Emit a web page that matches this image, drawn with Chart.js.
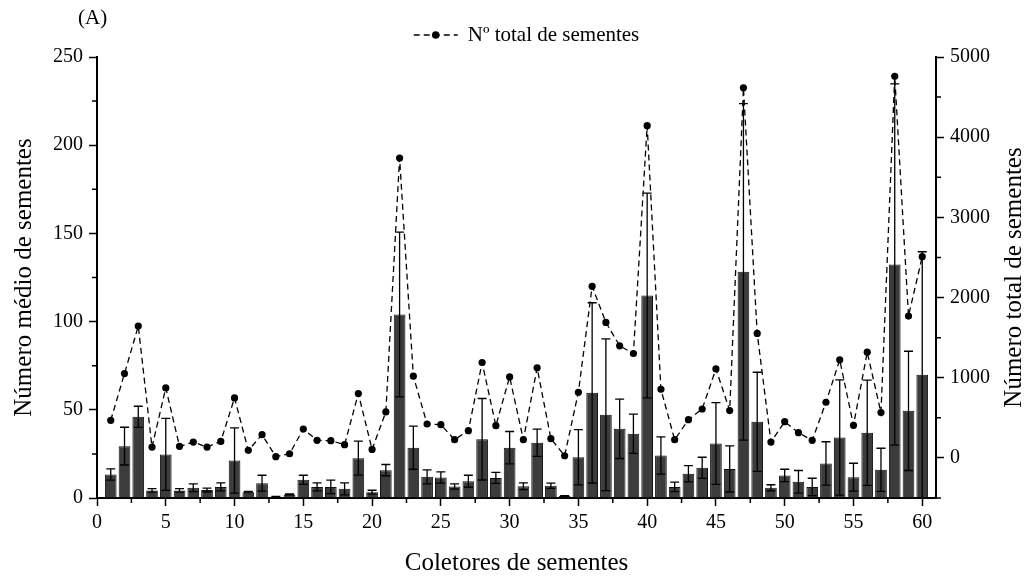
<!DOCTYPE html>
<html>
<head>
<meta charset="utf-8">
<script src="https://cdn.jsdelivr.net/npm/chart.js@4.4.1/dist/chart.umd.min.js"></script>
<style>
  body { margin: 0; background: #fff; }
  #wrap { width: 1028px; height: 577px; }
</style>
</head>
<body>
<div id="wrap"><canvas id="seedChart"></canvas></div>
<script>
// ============================================
// DATA
// ============================================
const collectors = Array.from({ length: 60 }, (_, i) => i + 1);

// mean number of seeds per collector (left axis)
const meanSeeds = [13.3, 29.4, 46.0, 4.3, 24.7, 4.3, 5.8, 4.5, 6.3, 21.3,
    3.3, 8.4, 0.7, 2.0, 10.3, 6.3, 6.3, 5.2, 22.6, 3.3,
    15.8, 104.0, 28.5, 12.0, 11.6, 6.5, 9.5, 33.3, 11.4, 28.5,
    6.7, 31.3, 6.9, 1.2, 23.1, 59.6, 47.2, 39.2, 36.4, 114.8,
    24.1, 6.3, 13.7, 17.1, 30.9, 16.5, 128.2, 43.2, 5.8, 12.8,
    9.2, 6.3, 19.6, 34.3, 11.8, 37.0, 16.0, 132.4, 49.4, 69.8];

// standard deviation (error bars)
const sdSeeds = [3.2, 10.7, 6.0, 1.0, 20.4, 1.0, 2.2, 1.1, 2.3, 18.5,
    0.4, 4.5, 0.2, 0.3, 2.6, 2.3, 3.8, 3.4, 9.6, 1.1,
    3.2, 46.7, 12.2, 4.0, 3.2, 1.5, 3.4, 23.1, 3.1, 9.2,
    1.9, 7.7, 1.5, 0.2, 15.7, 51.1, 43.0, 16.8, 11.1, 58.0,
    10.6, 2.7, 4.6, 6.0, 23.2, 13.1, 95.4, 28.1, 1.7, 3.5,
    6.4, 4.9, 12.3, 32.7, 7.9, 29.8, 12.2, 102.4, 33.8, 69.8];

// total number of seeds (right axis)
const totalSeeds = [469, 1052, 1644, 135, 873, 144, 198, 135, 206, 748,
    94, 290, 15, 52, 360, 219, 215, 165, 802, 106,
    573, 3740, 1019, 423, 415, 227, 340, 1190, 402, 1010,
    227, 1123, 240, 27, 819, 2140, 1690, 1398, 1302, 4144,
    856, 227, 477, 610, 1110, 590, 4615, 1552, 198, 452,
    315, 219, 694, 1223, 406, 1319, 565, 4760, 1769, 2510];

const xTicks = [0, 5, 10, 15, 20, 25, 30, 35, 40, 45, 50, 55, 60];
const yTicks = [0, 50, 100, 150, 200, 250];
const y2Ticks = [0, 1000, 2000, 3000, 4000, 5000];
const xMinor = [2.5, 7.5, 12.5, 17.5, 22.5, 27.5, 32.5, 37.5, 42.5, 47.5, 52.5, 57.5];
const yMinor = [25, 75, 125, 175, 225];
const y2Minor = [-500, 500, 1500, 2500, 3500, 4500];

const FONT = "'Liberation Serif', 'Times New Roman', serif";

// ============================================
// EXTRA DRAWING (error bars, minor ticks, legend, labels)
// ============================================
const extrasPlugin = {
    id: 'extras',
    afterDatasetsDraw(chart) {
        const ctx = chart.ctx;
        const yScale = chart.scales.y;
        const bars = chart.getDatasetMeta(1).data;
        ctx.save();
        ctx.strokeStyle = '#000';
        ctx.lineWidth = 1.3;
        bars.forEach((bar, i) => {
            const top = yScale.getPixelForValue(meanSeeds[i] + sdSeeds[i]);
            const bottom = yScale.getPixelForValue(Math.max(0, meanSeeds[i] - sdSeeds[i]));
            ctx.beginPath();
            ctx.moveTo(bar.x, top);
            ctx.lineTo(bar.x, bottom);
            ctx.moveTo(bar.x - 4.5, top);
            ctx.lineTo(bar.x + 4.5, top);
            ctx.moveTo(bar.x - 4.5, bottom);
            ctx.lineTo(bar.x + 4.5, bottom);
            ctx.stroke();
        });
        ctx.restore();
    },
    afterDraw(chart) {
        const ctx = chart.ctx;
        const { x, y, y2 } = chart.scales;
        const area = chart.chartArea;
        ctx.save();
        ctx.strokeStyle = '#000';
        ctx.lineWidth = 1.5;

        // minor ticks
        ctx.beginPath();
        xMinor.forEach(v => {
            const px = x.getPixelForValue(v);
            ctx.moveTo(px, area.bottom);
            ctx.lineTo(px, area.bottom + 5);
        });
        yMinor.forEach(v => {
            const py = y.getPixelForValue(v);
            ctx.moveTo(area.left, py);
            ctx.lineTo(area.left - 5, py);
        });
        y2Minor.forEach(v => {
            const py = y2.getPixelForValue(v);
            ctx.moveTo(area.right, py);
            ctx.lineTo(area.right + 5, py);
        });
        ctx.stroke();

        // legend
        ctx.font = '21px ' + FONT;
        const label = 'Nº total de sementes';
        const textW = ctx.measureText(label).width;
        const total = 54 + textW;
        const lx = (area.left + area.right) / 2 + 10 - total / 2;
        const ly = 35;
        ctx.lineWidth = 1.3;
        ctx.setLineDash([6, 4]);
        ctx.beginPath();
        ctx.moveTo(lx, ly);
        ctx.lineTo(lx + 44, ly);
        ctx.stroke();
        ctx.setLineDash([]);
        ctx.fillStyle = '#000';
        ctx.beginPath();
        ctx.arc(lx + 22, ly, 3.8, 0, Math.PI * 2);
        ctx.fill();
        ctx.textBaseline = 'middle';
        ctx.textAlign = 'left';
        ctx.fillText(label, lx + 54, ly);

        // panel letter
        ctx.fillText('(A)', 78, 18);

        // right axis title, reading bottom to top
        ctx.font = '25px ' + FONT;
        ctx.translate(y2.right - 14, (area.top + area.bottom) / 2);
        ctx.rotate(-Math.PI / 2);
        ctx.textAlign = 'center';
        ctx.fillText('Número total de sementes', 0, 0);
        ctx.restore();
    }
};

// ============================================
// CHART
// ============================================
const axisBase = {
    border: { display: true, color: '#000', width: 2 },
    grid: { display: true, drawOnChartArea: false, drawTicks: true, tickLength: 8, tickWidth: 1.5, tickColor: '#000' }
};
const plainNumber = v => String(v);

const ctx = document.getElementById('seedChart').getContext('2d');
new Chart(ctx, {
    type: 'bar',
    data: {
        datasets: [{
            type: 'line',
            label: 'Nº total de sementes',
            data: collectors.map((c, i) => ({ x: c, y: totalSeeds[i] })),
            yAxisID: 'y2',
            borderColor: '#000',
            borderWidth: 1.3,
            borderDash: [6, 4],
            pointRadius: 3.6,
            pointBackgroundColor: '#000',
            pointBorderWidth: 0,
            tension: 0,
            fill: false,
            order: 0
        }, {
            type: 'bar',
            label: 'Número médio de sementes',
            data: collectors.map((c, i) => ({ x: c, y: meanSeeds[i] })),
            yAxisID: 'y',
            backgroundColor: '#3c3c3c',
            borderColor: '#111',
            borderWidth: 1,
            barPercentage: 0.85,
            categoryPercentage: 1,
            order: 1
        }]
    },
    options: {
        responsive: true,
        maintainAspectRatio: false,
        animation: false,
        layout: { padding: { top: 57, left: 0, right: 0, bottom: 0 } },
        plugins: {
            legend: { display: false },
            tooltip: { enabled: false }
        },
        scales: {
            x: {
                ...axisBase,
                type: 'linear',
                position: 'bottom',
                min: 0,
                max: 61,
                offset: false,
                grid: { ...axisBase.grid, offset: false },
                afterBuildTicks: s => { s.ticks = xTicks.map(v => ({ value: v })); },
                afterFit: s => { s.height = 79; },
                ticks: { color: '#000', padding: 5, maxRotation: 0, callback: plainNumber, font: { family: FONT, size: 20 } },
                title: {
                    display: true, text: 'Coletores de sementes', color: '#000',
                    font: { family: FONT, size: 25, lineHeight: 1 }, padding: { top: 0, bottom: 1 }
                }
            },
            y: {
                ...axisBase,
                position: 'left',
                min: 0,
                max: 250,
                afterBuildTicks: s => { s.ticks = yTicks.map(v => ({ value: v })); },
                afterFit: s => { s.width = 97; },
                ticks: { color: '#000', padding: 6, callback: plainNumber, font: { family: FONT, size: 20 } },
                title: {
                    display: true, text: 'Número médio de sementes', color: '#000',
                    font: { family: FONT, size: 25, lineHeight: 1 }, padding: { top: 12, bottom: 0 }
                }
            },
            y2: {
                ...axisBase,
                position: 'right',
                min: -500,
                max: 5000,
                afterBuildTicks: s => { s.ticks = y2Ticks.map(v => ({ value: v })); },
                afterFit: s => { s.width = 92; },
                ticks: { color: '#000', padding: 6, callback: plainNumber, font: { family: FONT, size: 20 } },
                title: { display: false }
            }
        }
    },
    plugins: [extrasPlugin]
});
</script>
</body>
</html>
